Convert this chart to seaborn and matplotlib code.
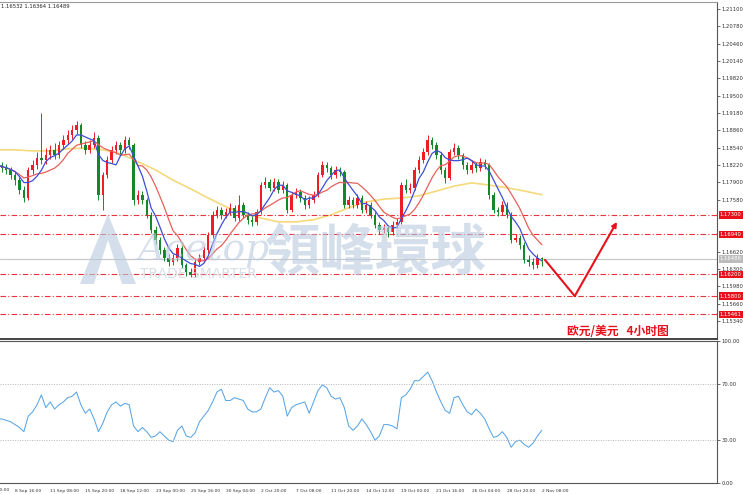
import numpy as np
import pandas as pd
import matplotlib
matplotlib.use("Agg")
import matplotlib.pyplot as plt
from matplotlib.transforms import blended_transform_factory
from matplotlib.patches import Polygon
import seaborn as sns

# EURUSD, bars
opens = [1.1825, 1.1822, 1.1816, 1.1813, 1.1804, 1.1794, 1.1776, 1.1761, 1.1813, 1.1822,
         1.1835, 1.1831, 1.1840, 1.1850, 1.1840, 1.1859, 1.1868, 1.1877, 1.1887, 1.1896,
         1.1859, 1.1850, 1.1859, 1.1872, 1.1767, 1.1804, 1.1831, 1.1850, 1.1859, 1.1850,
         1.1868, 1.1859, 1.1757, 1.1767, 1.1757, 1.1730, 1.1702, 1.1684, 1.1665, 1.1650,
         1.1643, 1.1650, 1.1669, 1.1637, 1.1625, 1.1619, 1.1643, 1.1650, 1.1665, 1.1693,
         1.1730, 1.1739, 1.1730, 1.1735, 1.1743, 1.1724, 1.1748, 1.1730, 1.1721, 1.1717,
         1.1735, 1.1785, 1.1791, 1.1780, 1.1791, 1.1776, 1.1785, 1.1739, 1.1767, 1.1772,
         1.1761, 1.1748, 1.1757, 1.1767, 1.1804, 1.1822, 1.1816, 1.1804, 1.1813, 1.1809,
         1.1748, 1.1757, 1.1748, 1.1761, 1.1739, 1.1748, 1.1730, 1.1711, 1.1702, 1.1706,
         1.1698, 1.1711, 1.1717, 1.1785, 1.1776, 1.1780, 1.1813, 1.1831, 1.1846, 1.1868,
         1.1859, 1.1840, 1.1813, 1.1798, 1.1846, 1.1853, 1.1840, 1.1822, 1.1813, 1.1822,
         1.1816, 1.1828, 1.1822, 1.1767, 1.1739, 1.1735, 1.1748, 1.1730, 1.1684, 1.1687,
         1.1674, 1.1647, 1.1643, 1.1637, 1.1650]
highs = [1.1831, 1.1828, 1.1824, 1.1818, 1.1810, 1.1799, 1.1783, 1.1818, 1.1831, 1.1846,
         1.1918, 1.1853, 1.1859, 1.1862, 1.1866, 1.1878, 1.1886, 1.1896, 1.1903, 1.1900,
         1.1866, 1.1868, 1.1883, 1.1877, 1.1810, 1.1838, 1.1857, 1.1867, 1.1865, 1.1875,
         1.1874, 1.1863, 1.1776, 1.1774, 1.1762, 1.1736, 1.1709, 1.1690, 1.1671, 1.1657,
         1.1658, 1.1676, 1.1674, 1.1642, 1.1632, 1.1649, 1.1658, 1.1672, 1.1699, 1.1737,
         1.1747, 1.1745, 1.1743, 1.1752, 1.1749, 1.1767, 1.1754, 1.1736, 1.1728, 1.1741,
         1.1791, 1.1800, 1.1797, 1.1798, 1.1797, 1.1793, 1.1789, 1.1773, 1.1780, 1.1777,
         1.1766, 1.1764, 1.1774, 1.1810, 1.1830, 1.1828, 1.1821, 1.1820, 1.1818, 1.1813,
         1.1764, 1.1763, 1.1768, 1.1766, 1.1755, 1.1753, 1.1736, 1.1717, 1.1713, 1.1712,
         1.1718, 1.1724, 1.1791, 1.1796, 1.1788, 1.1819, 1.1838, 1.1853, 1.1878, 1.1874,
         1.1865, 1.1846, 1.1819, 1.1852, 1.1862, 1.1858, 1.1845, 1.1828, 1.1829, 1.1828,
         1.1835, 1.1833, 1.1826, 1.1772, 1.1745, 1.1756, 1.1753, 1.1735, 1.1695, 1.1693,
         1.1679, 1.1655, 1.1650, 1.1657, 1.1653]
lows = [1.1815, 1.1810, 1.1806, 1.1797, 1.1786, 1.1768, 1.1754, 1.1757, 1.1806, 1.1815,
        1.1824, 1.1824, 1.1833, 1.1833, 1.1835, 1.1852, 1.1861, 1.1870, 1.1880, 1.1853,
        1.1843, 1.1844, 1.1853, 1.1758, 1.1739, 1.1798, 1.1825, 1.1842, 1.1843, 1.1845,
        1.1852, 1.1748, 1.1750, 1.1750, 1.1724, 1.1696, 1.1677, 1.1658, 1.1644, 1.1636,
        1.1638, 1.1645, 1.1631, 1.1618, 1.1615, 1.1616, 1.1637, 1.1645, 1.1660, 1.1688,
        1.1724, 1.1722, 1.1724, 1.1729, 1.1718, 1.1719, 1.1724, 1.1714, 1.1710, 1.1712,
        1.1731, 1.1779, 1.1774, 1.1774, 1.1770, 1.1770, 1.1733, 1.1735, 1.1761, 1.1754,
        1.1741, 1.1742, 1.1751, 1.1763, 1.1799, 1.1810, 1.1797, 1.1798, 1.1802, 1.1742,
        1.1742, 1.1742, 1.1743, 1.1733, 1.1733, 1.1724, 1.1705, 1.1695, 1.1696, 1.1689,
        1.1693, 1.1705, 1.1713, 1.1770, 1.1770, 1.1775, 1.1807, 1.1825, 1.1840, 1.1852,
        1.1833, 1.1806, 1.1788, 1.1794, 1.1840, 1.1834, 1.1815, 1.1806, 1.1807, 1.1809,
        1.1811, 1.1815, 1.1760, 1.1733, 1.1728, 1.1730, 1.1724, 1.1678, 1.1679, 1.1667,
        1.1641, 1.1636, 1.1630, 1.1632, 1.1636]
closes = [1.1822, 1.1816, 1.1813, 1.1804, 1.1794, 1.1776, 1.1761, 1.1813, 1.1822, 1.1835,
          1.1831, 1.1840, 1.1850, 1.1840, 1.1859, 1.1868, 1.1877, 1.1887, 1.1896, 1.1859,
          1.1850, 1.1859, 1.1872, 1.1767, 1.1804, 1.1831, 1.1850, 1.1859, 1.1850, 1.1868,
          1.1859, 1.1757, 1.1767, 1.1757, 1.1730, 1.1702, 1.1684, 1.1665, 1.1650, 1.1643,
          1.1650, 1.1669, 1.1637, 1.1625, 1.1619, 1.1643, 1.1650, 1.1665, 1.1693, 1.1730,
          1.1739, 1.1730, 1.1735, 1.1743, 1.1724, 1.1748, 1.1730, 1.1721, 1.1717, 1.1735,
          1.1785, 1.1791, 1.1780, 1.1791, 1.1776, 1.1785, 1.1739, 1.1767, 1.1772, 1.1761,
          1.1748, 1.1757, 1.1767, 1.1804, 1.1822, 1.1816, 1.1804, 1.1813, 1.1809, 1.1748,
          1.1757, 1.1748, 1.1761, 1.1739, 1.1748, 1.1730, 1.1711, 1.1702, 1.1706, 1.1698,
          1.1711, 1.1717, 1.1785, 1.1776, 1.1780, 1.1813, 1.1831, 1.1846, 1.1868, 1.1859,
          1.1840, 1.1813, 1.1798, 1.1846, 1.1853, 1.1840, 1.1822, 1.1813, 1.1822, 1.1816,
          1.1828, 1.1822, 1.1767, 1.1739, 1.1735, 1.1748, 1.1730, 1.1684, 1.1687, 1.1674,
          1.1647, 1.1643, 1.1637, 1.1650, 1.16489]

# slow moving average (yellow), read every 4th bar
slow_ma_bars = list(range(0, 125, 4))
slow_ma = [1.1850, 1.1850, 1.1848, 1.1848, 1.1852, 1.1853, 1.1850, 1.1843, 1.1828, 1.1813,
           1.1794, 1.1778, 1.1761, 1.1745, 1.1733, 1.1724, 1.1717, 1.1717, 1.1721, 1.1730,
           1.1743, 1.1754, 1.1759, 1.1761, 1.1765, 1.1774, 1.1783, 1.1789, 1.1785, 1.1780,
           1.1774, 1.1767]

rsi = [45, 45, 44, 43, 41, 39, 36, 47, 50, 55,
       62, 53, 57, 52, 55, 57, 60, 61, 64, 55,
       49, 52, 45, 36, 42, 50, 55, 57, 54, 56,
       55, 40, 36, 39, 36, 32, 33, 36, 33, 30,
       29, 37, 40, 33, 32, 35, 43, 47, 51, 57,
       64, 66, 58, 58, 60, 59, 58, 52, 50, 50,
       52, 60, 67, 64, 65, 61, 47, 53, 55, 56,
       57, 49, 57, 65, 69, 67, 61, 59, 60, 53,
       40, 37, 40, 45, 41, 36, 30, 33, 41, 41,
       40, 38, 60, 62, 66, 72, 72, 75, 78, 72,
       64, 57, 51, 49, 60, 61, 55, 50, 48, 52,
       49, 45, 38, 32, 33, 36, 32, 25, 29, 30,
       27, 25, 28, 33, 37]

tick_bars = list(range(-4, 125, 8))
tick_labels = ["4 Sep 00:00", "8 Sep 16:00", "11 Sep 08:00", "15 Sep 20:00", "18 Sep 12:00",
               "23 Sep 00:00", "25 Sep 16:00", "30 Sep 04:00", "2 Oct 20:00", "7 Oct 08:00",
               "11 Oct 20:00", "14 Oct 12:00", "19 Oct 00:00", "21 Oct 16:00", "26 Oct 04:00",
               "28 Oct 20:00", "2 Nov 08:00"]
price_ticks = [1.21100, 1.20780, 1.20460, 1.20140, 1.19820, 1.19500, 1.19180, 1.18860,
               1.18540, 1.18220, 1.17900, 1.17580, 1.16620, 1.16300, 1.15980, 1.15660, 1.15340]
level_prices = [1.17300, 1.16940, 1.16200, 1.15800, 1.15461]
bid_price = 1.16489
header = "1.16532 1.16364 1.16489"

# hand drawn forecast arrow
forecast_bars = [124.7, 131.5, 141.1]
forecast_prices = [1.1647, 1.1580, 1.1717]

assert len(opens) == len(highs) == len(lows) == len(closes) == len(rsi) == 125

df = pd.DataFrame({"bar": np.arange(len(closes)), "open": opens, "high": highs,
                   "low": lows, "close": closes, "rsi": rsi})
df["ma_fast"] = df["close"].rolling(5, min_periods=1).mean()
df["ma_mid"] = df["close"].rolling(10, min_periods=1).mean()
slow = pd.DataFrame({"bar": slow_ma_bars, "ma": slow_ma})

sns.set_style("white")
plt.rcParams["font.family"] = ["DejaVu Sans", "Noto Sans CJK SC"]

W, H = 743, 494
fig = plt.figure(figsize=(W / 100, H / 100), dpi=100)
ax = fig.add_axes([0, 1 - 339 / H, 717 / W, 337 / H])
ax2 = fig.add_axes([0, 1 - 483 / H, 717 / W, 142 / H])

UP, DOWN = "#ee1c25", "#15872b"
up = df["close"] >= df["open"]
col = np.where(up, UP, DOWN)

# candles
ax.vlines(df["bar"], df["low"], df["high"], colors=col, lw=0.7, zorder=2)
body_lo = np.minimum(df["open"], df["close"])
body_h = np.maximum(np.abs(df["close"] - df["open"]), 0.00006)
ax.bar(df["bar"], body_h, bottom=body_lo, width=0.55, color=col, lw=0, zorder=3)

# moving averages
sns.lineplot(data=slow, x="bar", y="ma", ax=ax, color="#f6d97a", lw=1.2, zorder=1)
sns.lineplot(data=df, x="bar", y="ma_mid", ax=ax, color="#e8605a", lw=0.9, zorder=4)
sns.lineplot(data=df, x="bar", y="ma_fast", ax=ax, color="#3b4fd6", lw=0.9, zorder=4)

# horizontal levels
for p in level_prices:
    ax.axhline(p, color="#e8343a", lw=0.8, ls=(0, (5, 2, 1, 2)), zorder=1)
ax.axhline(bid_price, color="#c6c6c6", lw=0.8, zorder=1)

# forecast arrow
ax.plot(forecast_bars[:2], forecast_prices[:2], color="#e8111b", lw=1.5, zorder=6)
ax.annotate("", xy=(forecast_bars[2], forecast_prices[2]),
            xytext=(forecast_bars[1], forecast_prices[1]),
            arrowprops=dict(arrowstyle="-|>", color="#e8111b", lw=1.5,
                            mutation_scale=7, shrinkA=0, shrinkB=0), zorder=6)

ax.set_xlim(0.57, 163.9)
ax.set_ylim(1.15008, 1.21229)
ax.set_xlabel("")
ax.set_ylabel("")
ax.set_xticks([])
ax.yaxis.tick_right()
ax.set_yticks(price_ticks)
ax.set_yticklabels([f"{v:.5f}" for v in price_ticks])
ax.tick_params(axis="y", direction="out", length=2, width=0.5, labelsize=3.8,
               pad=1, colors="#333333")
ax.spines["left"].set_visible(False)
ax.spines["top"].set_color("#9a9a9a")
ax.spines["top"].set_linewidth(0.8)
ax.spines["right"].set_color("#555555")
ax.spines["right"].set_linewidth(0.8)
ax.spines["bottom"].set_color("#444444")
ax.spines["bottom"].set_linewidth(1.4)

trans = blended_transform_factory(ax.transAxes, ax.transData)
for p in level_prices:
    ax.text(1.004, p, f"{p:.5f}", transform=trans, color="white", fontsize=3.8,
            va="center", ha="left", clip_on=False, zorder=7,
            bbox=dict(boxstyle="square,pad=0.25", fc="#e8111b", ec="none"))
ax.text(1.004, bid_price, f"{bid_price:.5f}", transform=trans, color="white",
        fontsize=3.8, va="center", ha="left", clip_on=False, zorder=7,
        bbox=dict(boxstyle="square,pad=0.25", fc="#bcbcbc", ec="none"))

# RSI panel
sns.lineplot(data=df, x="bar", y="rsi", ax=ax2, color="#5aa5e6", lw=0.75)
for lv in [70, 30]:
    ax2.axhline(lv, color="#b5b5b5", lw=0.7, ls=(0, (1, 1.5)))
ax2.set_xlim(0.57, 163.9)
ax2.set_ylim(-0.2, 99.5)
ax2.set_xlabel("")
ax2.set_ylabel("")
ax2.yaxis.tick_right()
ax2.set_yticks([0, 30, 70, 100])
ax2.set_yticklabels(["0.00", "30.00", "70.00", "100.00"])
ax2.tick_params(axis="y", direction="out", length=2, width=0.5, labelsize=3.8,
                pad=1, colors="#333333")
ax2.set_xticks(tick_bars[1:])
ax2.set_xticklabels(tick_labels[1:], ha="left")
ax2.tick_params(axis="x", direction="out", length=2.5, width=0.5, labelsize=3.2,
                pad=1.5, colors="#333333")
ax2.text(tick_bars[0] + 0.6, -0.035, tick_labels[0], fontsize=3.2, color="#333333",
         ha="left", va="top", clip_on=False,
         transform=blended_transform_factory(ax2.transData, ax2.transAxes))
ax2.spines["left"].set_visible(False)
for s in ["top", "right", "bottom"]:
    ax2.spines[s].set_color("#555555")
    ax2.spines[s].set_linewidth(0.8)

# header and caption
fig.text(1 / W, 1 - 6 / H, header, fontsize=3.8, color="#222222", va="center")
fig.text(567 / W, 1 - 331 / H, "欧元/美元   4小时图", fontsize=8.5, color="#e8111b",
         weight="bold", va="center", family=["Noto Sans CJK SC", "DejaVu Sans"])

# watermark
wm = "#b9cbe0"
logo = Polygon([(80 / W, 1 - 284 / H), (108 / W, 1 - 214 / H), (136 / W, 1 - 284 / H),
                (122 / W, 1 - 284 / H), (108 / W, 1 - 240 / H), (94 / W, 1 - 284 / H)],
               closed=True, transform=fig.transFigure, fc=wm, ec="none", alpha=0.6, zorder=8)
fig.patches.append(logo)
fig.text(138 / W, 1 - 250 / H, "Acetop", fontsize=27, style="italic", color=wm,
         alpha=0.6, va="center", family="DejaVu Serif", zorder=8)
fig.text(265 / W, 1 - 254 / H, "領峰環球", fontsize=40, weight="bold", color=wm,
         alpha=0.6, va="center", family=["Noto Sans CJK TC", "DejaVu Sans"], zorder=8)
fig.text(140 / W, 1 - 274 / H, "TRADE SMARTER", fontsize=10, color="#cdd7e2",
         alpha=0.8, va="center", zorder=8)

fig.savefig("out.png", dpi=100)
